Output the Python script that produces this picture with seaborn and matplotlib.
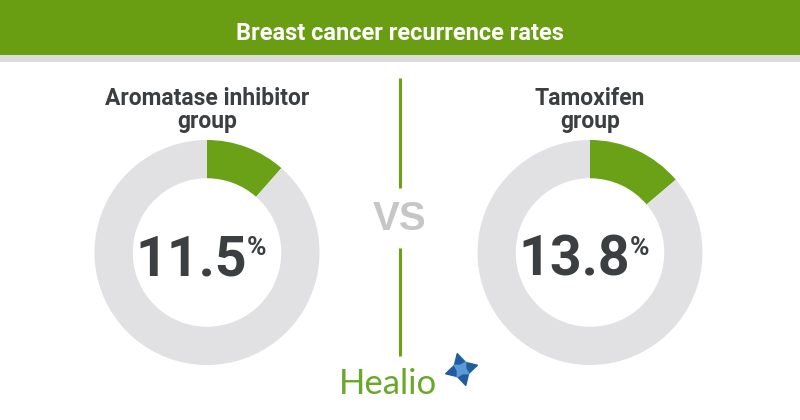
import matplotlib.pyplot as plt
import seaborn as sns

# values
groups = ["Aromatase inhibitor\ngroup", "Tamoxifen\ngroup"]
rates = [11.5, 13.8]
title = "Breast cancer recurrence rates"

GREEN = "#6aa116"
RING = "#e1e1e3"
DARK = "#3b3f41"

sns.set_theme(style="white")
plt.rcParams['font.family'] = ['Roboto', 'DejaVu Sans']

fig = plt.figure(figsize=(8, 4.2), dpi=100)
fig.patch.set_facecolor("white")

# background axes in pixel coordinates (y down)
bg = fig.add_axes([0, 0, 1, 1])
bg.set_xlim(0, 800)
bg.set_ylim(420, 0)
bg.axis("off")

bg.add_patch(plt.Rectangle((0, 0), 800, 55, color="#6a9e12", lw=0))
bg.add_patch(plt.Rectangle((0, 55), 800, 7, color="#dcdcdc", lw=0))
bg.text(400, 33, title, color="white", fontsize=17, weight="bold",
        ha="center", va="center")

# divider with VS
bg.plot([400, 400], [78, 188], color=GREEN, lw=2.2, solid_capstyle="butt")
bg.plot([400, 400], [248, 356], color=GREEN, lw=2.2, solid_capstyle="butt")
bg.text(400, 219, "VS", color="#c6c6c6", fontsize=29, weight="bold",
        ha="center", va="center", family=["Liberation Sans", "DejaVu Sans"])

centers = [207, 590]
cy, r_out = 252.5, 112.5

for cx, grp, val in zip(centers, groups, rates):
    line1, line2 = grp.split("\n")
    bg.text(cx, 105, line1, color=DARK, fontsize=16.5, weight="bold",
            ha="center", va="baseline")
    bg.text(cx, 128, line2, color=DARK, fontsize=16.5, weight="bold",
            ha="center", va="baseline")

    ax = fig.add_axes([(cx - r_out) / 800, (420 - cy - r_out) / 420,
                       2 * r_out / 800, 2 * r_out / 420])
    ax.pie([val, 100 - val], colors=[GREEN, RING], startangle=90,
           counterclock=False, radius=1,
           wedgeprops=dict(width=0.34, linewidth=0))
    ax.set_xlim(-1, 1)
    ax.set_ylim(-1, 1)
    ax.set_aspect("equal")
    ax.axis("off")

# overlay axes for the numbers and logo, drawn above the donuts
fg = fig.add_axes([0, 0, 1, 1])
fg.set_xlim(0, 800)
fg.set_ylim(420, 0)
fg.axis("off")
fg.patch.set_alpha(0)

for cx, val in zip(centers, rates):
    fg.text(cx + 40, 276, f"{val:.1f}", color=DARK, fontsize=40, weight="bold",
            ha="right", va="baseline")
    # superscript percent sign
    fg.text(cx + 40, 255, "%", color=DARK, fontsize=19, weight="bold",
            ha="left", va="baseline")

# Healio logo
fg.text(388, 394, "Healio", color="#6aa82a", fontsize=25,
        ha="center", va="baseline", family=["Lato", "DejaVu Sans"])
fg.scatter([461], [369], marker=(4, 1, 15), s=560, color="#1f5d9f", zorder=3)
fg.scatter([461], [369], marker=(4, 1, 60), s=150, color="#5b9bd5", zorder=4)

fig.savefig("out.png", dpi=100)
